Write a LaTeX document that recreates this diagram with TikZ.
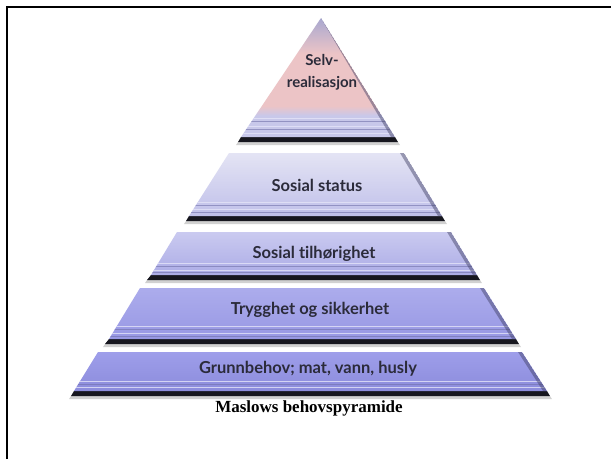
\documentclass[tikz,border=0pt]{standalone}
\usepackage{fontspec}
\setmainfont{Liberation Serif}
\newfontfamily\labelfont[Ligatures=NoCommon]{Lato}
\usetikzlibrary{positioning}

\definecolor{apexblue}{HTML}{A8A8D0}
\definecolor{apexpink}{HTML}{ECC4C6}
\definecolor{apexband}{HTML}{C8C8EA}
\definecolor{esteemtop}{HTML}{E4E4F4}
\definecolor{esteembot}{HTML}{C0C0EA}
\definecolor{belongtop}{HTML}{CACAF0}
\definecolor{belongbot}{HTML}{ACACE6}
\definecolor{safetytop}{HTML}{ACACEC}
\definecolor{safetybot}{HTML}{9898E4}
\definecolor{basictop}{HTML}{9E9EEA}
\definecolor{basicbot}{HTML}{8C8CDC}
\definecolor{slabink}{HTML}{2B2B3A}
\definecolor{slabbase}{HTML}{17171F}
\definecolor{stripelight}{HTML}{E4E4F8}
\definecolor{stripedark}{HTML}{7070A8}
\definecolor{sideshade}{HTML}{3C3C60}

\pgfdeclareverticalshading{apexshade}{100bp}{%
  color(0bp)=(apexband); color(25bp)=(apexband); color(34bp)=(apexband);
  color(38bp)=(apexpink); color(60bp)=(apexpink); color(75bp)=(apexblue);
  color(100bp)=(apexblue)}

\tikzset{
  frameline/.style={line width=2pt, black},
  basefill/.style={fill=slabbase},
  softshadow/.style={fill=black!18},
  sidefill/.style={fill=sideshade, fill opacity=0.45},
  litestripe/.style={draw=stripelight, line width=1pt, draw opacity=0.8},
  darkstripe/.style={draw=stripedark, line width=0.6pt, draw opacity=0.6},
  lvllabel/.style={font=\labelfont\bfseries\fontsize{16.5}{22}\selectfont,
                   text=slabink, align=center, inner sep=0pt},
  toplabel/.style={lvllabel, font=\labelfont\bfseries\fontsize{15}{22}\selectfont},
  captext/.style={font=\bfseries\fontsize{17}{19}\selectfont, inner sep=0pt},
}

\begin{document}
\begin{tikzpicture}[x=1pt, y=-1pt]

\useasboundingbox[fill=white] (0,0) rectangle (611,459);

% frame (top and left edge only)
\draw[frameline] (7,459) -- (7,7) -- (611,7);

%% ---- top: Selv-realisasjon ----
\fill[softshadow] (238,142) -- (398,142) -- (400,145) -- (236,145) -- cycle;
\fill[basefill] (241,137) -- (395,137) -- (398,142) -- (238,142) -- cycle;
\begin{scope}
  \clip (321,18) -- (395,137) -- (241,137) -- cycle;
  \shade[shading=apexshade] (230,18) rectangle (400,137);
  \draw[litestripe] (230,118) -- (400,118);
  \draw[darkstripe] (230,121) -- (400,121);
  \draw[litestripe] (230,126) -- (400,126);
  \draw[darkstripe] (230,129) -- (400,129);
  \draw[litestripe] (230,133) -- (400,133);
  \fill[sidefill] (321,18) -- (395,137) -- (391,137) -- cycle;
\end{scope}
\node[toplabel] (selfreal) at (322,72) {Selv-\\realisasjon};

%% ---- level 2: Sosial status ----
\fill[softshadow] (186,221) -- (445,221) -- (447,224) -- (184,224) -- cycle;
\fill[basefill] (189,216) -- (442,216) -- (445,221) -- (186,221) -- cycle;
\begin{scope}
  \clip (229,153) -- (404,153) -- (442,216) -- (189,216) -- cycle;
  \shade[top color=esteemtop, bottom color=esteembot]
    (180,153) rectangle (450,216);
  \draw[litestripe] (180,202) -- (450,202);
  \draw[darkstripe] (180,205) -- (450,205);
  \draw[litestripe] (180,209) -- (450,209);
  \draw[darkstripe] (180,212) -- (450,212);
  \fill[sidefill] (404,153) -- (442,216) -- (438,216) -- (400,153) -- cycle;
\end{scope}
\node[lvllabel] (esteem) at (317,185) {Sosial status};

%% ---- level 3: Sosial tilhoerighet ----
\fill[softshadow] (147,280) -- (480,280) -- (482,283) -- (145,283) -- cycle;
\fill[basefill] (151,275) -- (477,275) -- (480,280) -- (147,280) -- cycle;
\begin{scope}
  \clip (177,232) -- (451,232) -- (477,275) -- (151,275) -- cycle;
  \shade[top color=belongtop, bottom color=belongbot]
    (140,232) rectangle (490,275);
  \draw[litestripe] (140,263) -- (490,263);
  \draw[darkstripe] (140,266) -- (490,266);
  \draw[litestripe] (140,270) -- (490,270);
  \draw[darkstripe] (140,272.5) -- (490,272.5);
  \fill[sidefill] (451,232) -- (477,275) -- (473,275) -- (447,232) -- cycle;
\end{scope}
\node[lvllabel] (belong) at (314,254) {Sosial tilhørighet};

%% ---- level 4: Trygghet og sikkerhet ----
\fill[softshadow] (105,344) -- (519,344) -- (521,347) -- (103,347) -- cycle;
\fill[basefill] (109,339) -- (516,339) -- (519,344) -- (105,344) -- cycle;
\begin{scope}
  \clip (140,288) -- (484,288) -- (516,339) -- (109,339) -- cycle;
  \shade[top color=safetytop, bottom color=safetybot]
    (100,288) rectangle (530,339);
  \draw[litestripe] (100,326) -- (530,326);
  \draw[darkstripe] (100,329) -- (530,329);
  \draw[litestripe] (100,333) -- (530,333);
  \draw[darkstripe] (100,336) -- (530,336);
  \fill[sidefill] (484,288) -- (516,339) -- (512,339) -- (480,288) -- cycle;
\end{scope}
\node[lvllabel] (safety) at (310,310) {Trygghet og sikkerhet};

%% ---- level 5: Grunnbehov ----
\fill[softshadow] (71,396) -- (550,396) -- (552,399) -- (69,399) -- cycle;
\fill[basefill] (74,391) -- (547,391) -- (550,396) -- (71,396) -- cycle;
\begin{scope}
  \clip (98,352) -- (522,352) -- (547,391) -- (74,391) -- cycle;
  \shade[top color=basictop, bottom color=basicbot]
    (60,352) rectangle (560,391);
  \draw[litestripe] (60,381) -- (560,381);
  \draw[darkstripe] (60,384) -- (560,384);
  \draw[litestripe] (60,387) -- (560,387);
  \fill[sidefill] (522,352) -- (547,391) -- (543,391) -- (518,352) -- cycle;
\end{scope}
\node[lvllabel] (basic) at (308,369) {Grunnbehov; mat, vann, husly};

% caption
\node[captext] (caption) at (309,408) {Maslows behovspyramide};

\end{tikzpicture}
\end{document}
